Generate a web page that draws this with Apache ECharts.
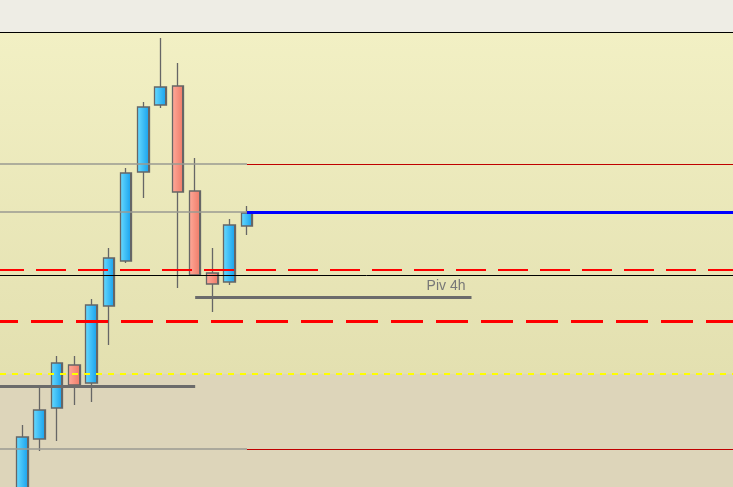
<!DOCTYPE html>
<html>
<head>
<meta charset="utf-8">
<script src="https://cdn.jsdelivr.net/npm/echarts@6/dist/echarts.min.js"></script>
<style>html,body{margin:0;padding:0;background:#eeede5;}#c{width:733px;height:487px;}</style>
</head>
<body>
<div id="c"></div>
<script>
// Bar index (x) and OHLC values (price units, arbitrary scale)
const barIndex = [0, 1, 2, 3, 4, 5, 6, 7, 8, 9, 10, 11, 12, 13];
const opens  = [-13, 48, 79, 122, 104, 181, 226, 315, 382, 401, 296, 214, 205, 261];
const closes = [50, 77, 124, 102, 182, 229, 314, 380, 400, 295, 212, 203, 262, 274];
const lows   = [-18, 36, 46, 82, 85, 142, 224, 289, 379, 199, 212, 175, 202, 252];
const highs  = [62, 100, 131, 131, 188, 239, 319, 385, 449, 424, 329, 239, 268, 281];

// Axis ranges
const xMin = -1.3, xMax = 41.14;
const yMin = 0, yMax = 455;

// Horizontal levels
const levelUpper = 323;   // gray left / dark red right
const levelBlue = 275;    // gray left / blue right
const levelRedDash1 = 217;
const levelBlack = 212;
const levelPiv = 190;
const pivFrom = 10, pivTo = 26;
const pivLabel = 'Piv 4h';
const levelRedDash2 = 166;
const levelYellow = 113;
const levelGrayLow = 101;
const grayLowTo = 10;
const levelLower = 38;
const splitX = 13;

const ohlc = barIndex.map((x, i) => [x, opens[i], closes[i], lows[i], highs[i]]);

const blueFill = {type:'linear', x:0, y:0, x2:1, y2:0, colorStops:[
  {offset:0, color:'#6adcff'}, {offset:0.84, color:'#1fa6ee'}, {offset:0.85, color:'#666'}, {offset:1, color:'#666'}]};
const redFill = {type:'linear', x:0, y:0, x2:1, y2:0, colorStops:[
  {offset:0, color:'#ffab9b'}, {offset:0.84, color:'#f07f6c'}, {offset:0.85, color:'#666'}, {offset:1, color:'#666'}]};

const seg = (x0, x1, y, style) => [
  {coord:[x0, y], lineStyle: style},
  {coord:[x1, y]}
];

const grayThin = {color:'#9a9a92', width:1.6, type:'solid'};
const darkRed = {color:'#c00000', width:1, type:'solid'};

const markLines = [
  seg(xMin, splitX, levelUpper, grayThin),
  seg(splitX, xMax, levelUpper, darkRed),
  seg(xMin, splitX, levelBlue, grayThin),
  seg(splitX, xMax, levelBlue, {color:'#0000ff', width:3, type:'solid'}),
  seg(xMin, xMax, levelRedDash1, {color:'#ff0000', width:2, type:[30,12], dashOffset:6}),
  seg(xMin, xMax, levelBlack, {color:'#000000', width:1, type:'solid'}),
  seg(xMin, xMax, levelRedDash2, {color:'#ff0000', width:3, type:[32,13], dashOffset:14}),
  seg(xMin, xMax, levelYellow, {color:'#ffff00', width:2, type:[6,6]}),
  seg(xMin, grayLowTo, levelGrayLow, {color:'#6b6b6b', width:3, type:'solid'}),
  seg(xMin, splitX, levelLower, grayThin),
  seg(splitX, xMax, levelLower, darkRed)
];
const pivLine = [
  {coord:[pivFrom, levelPiv], lineStyle:{color:'#6b6b6b', width:3, type:'solid'},
   label:{show:true, formatter:pivLabel, position:'insideEndTop', distance:[6,4], color:'#777', fontSize:14, fontFamily:'Liberation Sans'}},
  {coord:[pivTo, levelPiv]}
];
markLines.push(pivLine);

const chart = echarts.init(document.getElementById('c'));
chart.setOption({
  animation: false,
  backgroundColor: '#eeede5',
  grid: {left:0, right:0, top:32, bottom:0, show:true, borderWidth:0,
    backgroundColor: {type:'linear', x:0, y:0, x2:0, y2:1, colorStops:[
      {offset:0, color:'#f2f0c4'}, {offset:0.75, color:'#e3e0b0'}, {offset:1, color:'#dedba9'}]}},
  xAxis: {type:'value', min:xMin, max:xMax, position:'top',
    axisLine:{show:true, onZero:false, lineStyle:{color:'#000', width:1.2}}, axisTick:{show:false},
    axisLabel:{show:false}, splitLine:{show:false}},
  yAxis: {type:'value', min:yMin, max:yMax, show:false, splitLine:{show:false}},
  series: [
    {
      type:'line', data:[], silent:true,
      markArea:{silent:true, itemStyle:{color:'#ddd5ba'},
        data:[[{coord:[xMin, yMin]}, {coord:[xMax, levelYellow]}]]}
    },
    {
      type:'candlestick', data: ohlc, encode:{x:0, y:[1,2,3,4]},
      barWidth: 12, clip:true,
      itemStyle:{color:blueFill, color0:redFill, borderColor:'#666', borderColor0:'#666', borderWidth:1.3},
      markLine:{silent:true, symbol:['none','none'], label:{show:false}, data: markLines}
    }
  ]
});
</script>
</body>
</html>
